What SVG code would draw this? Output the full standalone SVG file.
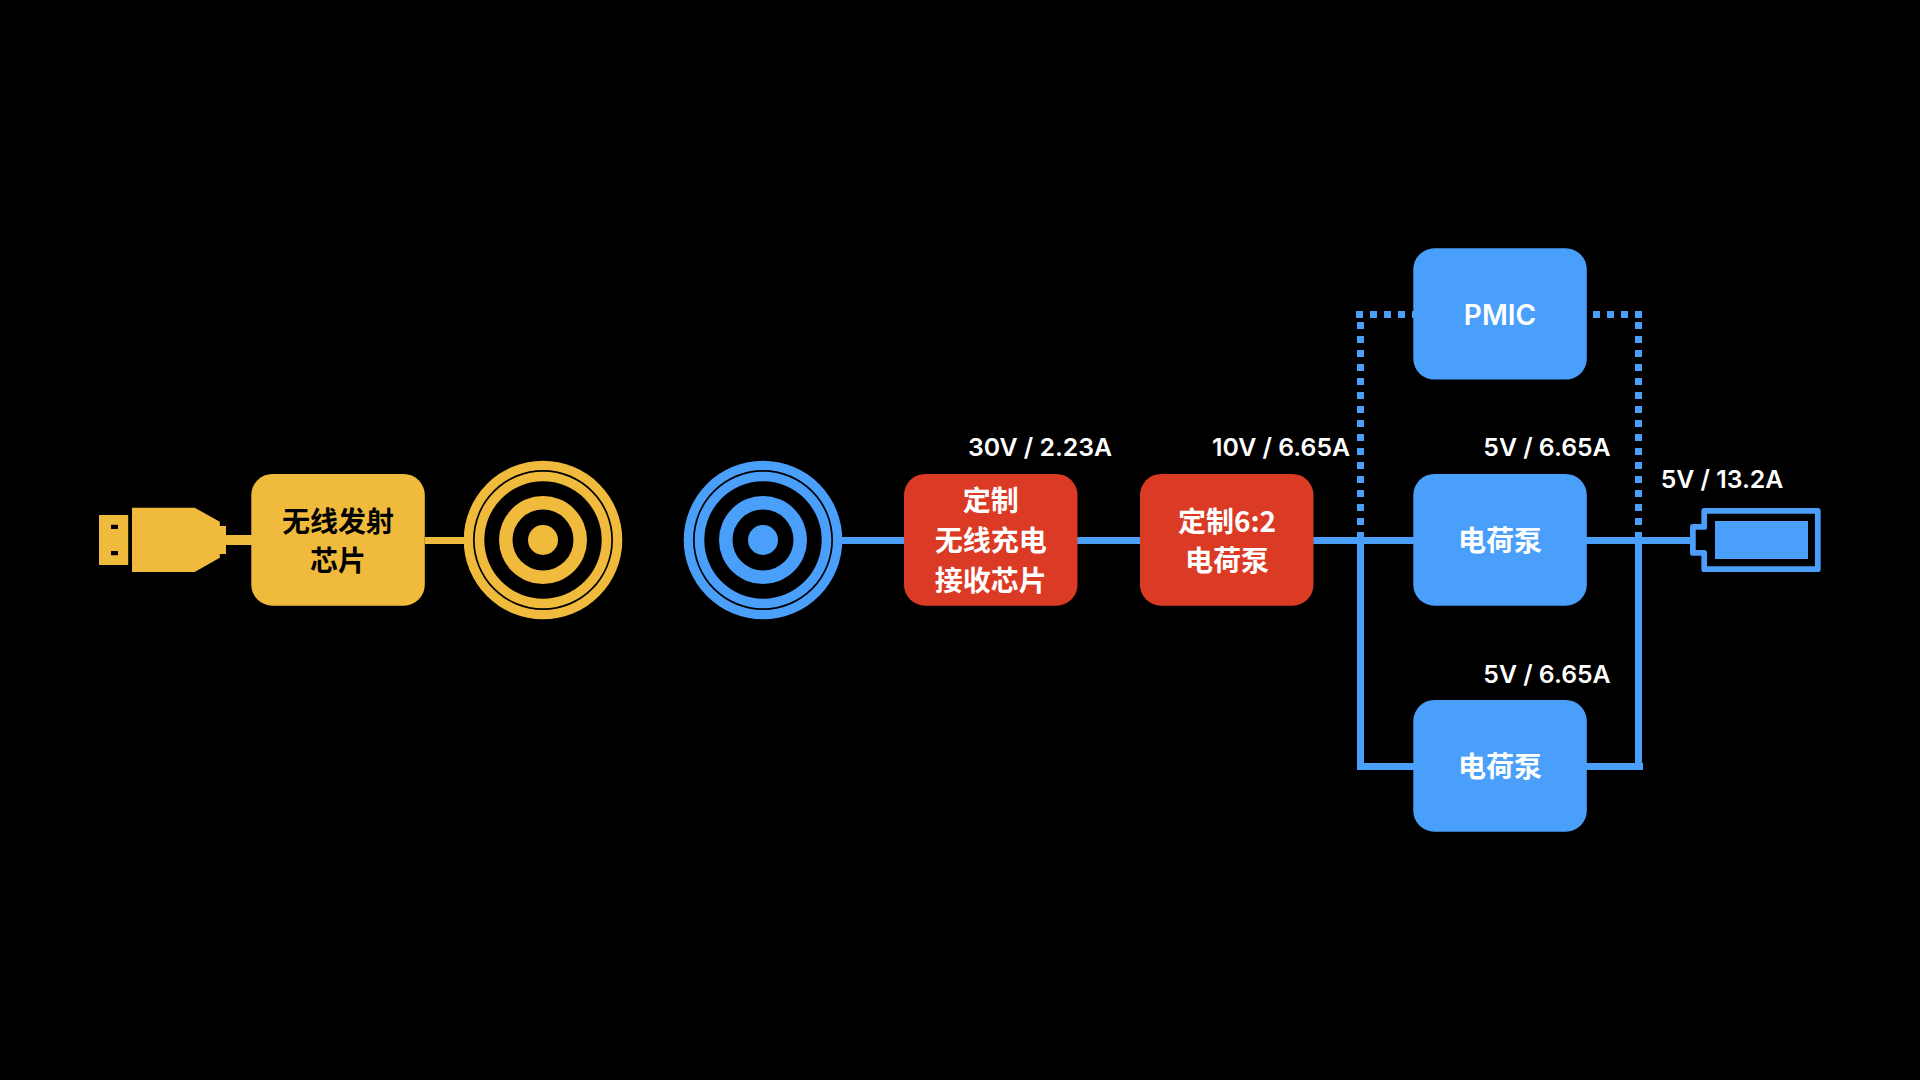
<svg xmlns="http://www.w3.org/2000/svg" width="1920" height="1080" viewBox="0 0 1920 1080">
<style>
.y{fill:#F0BB3C}.b{fill:#4A9FFA}.r{fill:#DB3A24}.k{fill:#000}
.w{fill:none;stroke:#4A9FFA;stroke-width:7}
.wy{fill:none;stroke:#F0BB3C;stroke-width:7}
.d{fill:none;stroke:#4A9FFA;stroke-width:7;stroke-dasharray:7 7}
.cn{font-family:"Noto Sans CJK SC","Noto Sans",sans-serif;font-weight:700;font-size:28px;text-anchor:middle;dominant-baseline:auto;fill:#fff}
.dark{fill:#000}
.lb{font-family:Inter,"Noto Sans",sans-serif;font-weight:600;font-size:24.8px;text-anchor:middle;fill:#fff}
.pm{font-family:Inter,"Noto Sans",sans-serif;font-weight:600;font-size:28px;text-anchor:middle;fill:#fff}
</style>
<rect width="1920" height="1080" fill="#000"/>
<g id="connectors">
<path class="wy" d="M425 540.5H464"/>
<path d="M211 540H252" fill="none" stroke="#F0BB3C" stroke-width="10"/>
<path class="w" d="M842 540.5H1690"/>
<path class="w" d="M1360.5 540.5V766.5H1414"/>
<path class="w" d="M1586 766.5H1643M1638.5 766V540.5"/>
<path class="d" d="M1356 314.5H1414"/>
<path class="d" d="M1360.5 322V540"/>
<path class="d" d="M1593 314.5H1642"/>
<path class="d" d="M1638.5 322V540"/>
</g>
<g id="usb">
<path class="y" d="M99 515H128.2V565H99ZM111 524.7V529H118V524.7ZM111 551V555.3H118V551Z" fill-rule="evenodd"/>
<path class="y" d="M132 507.7H194.7L219.8 521.7V526H226V554H219.8V557.7L194.7 572H132Z"/>
</g>
<g id="tx-chip">
<rect class="y" x="251.3" y="474" width="173.5" height="131.7" rx="21"/>
<text class="cn dark" x="338" y="532">无线发射</text>
<text class="cn dark" x="338" y="571">芯片</text>
</g>
<g id="tx-coil">
<circle class="y" cx="543" cy="540" r="79.3"/>
<circle class="k" cx="543" cy="540" r="70"/>
<circle class="y" cx="543" cy="540" r="68.3"/>
<circle class="k" cx="543" cy="540" r="58.7"/>
<circle class="y" cx="543" cy="540" r="44"/>
<circle class="k" cx="543" cy="540" r="30.5"/>
<circle class="y" cx="543" cy="540" r="15"/>
</g>
<g id="rx-coil">
<circle class="b" cx="763" cy="540" r="79.3"/>
<circle class="k" cx="763" cy="540" r="70"/>
<circle class="b" cx="763" cy="540" r="68.3"/>
<circle class="k" cx="763" cy="540" r="58.7"/>
<circle class="b" cx="763" cy="540" r="44"/>
<circle class="k" cx="763" cy="540" r="30.5"/>
<circle class="b" cx="763" cy="540" r="15"/>
</g>
<g id="rx-chip">
<rect class="r" x="904" y="474" width="173.5" height="131.7" rx="21"/>
<text class="cn" x="990.7" y="511">定制</text>
<text class="cn" x="990.7" y="551">无线充电</text>
<text class="cn" x="990.7" y="591">接收芯片</text>
</g>
<g id="custom-pump">
<rect class="r" x="1140" y="474" width="173.5" height="131.7" rx="21"/>
<text class="cn" x="1227" y="532">定制6:2</text>
<text class="cn" x="1227" y="571">电荷泵</text>
</g>
<g id="pmic">
<rect class="b" x="1413.3" y="248.3" width="173.5" height="131.3" rx="21"/>
<text class="pm" x="1500" y="325">PMIC</text>
</g>
<g id="pump-1">
<rect class="b" x="1413.3" y="474" width="173.5" height="131.7" rx="21"/>
<text class="cn" x="1500" y="551">电荷泵</text>
</g>
<g id="pump-2">
<rect class="b" x="1413.3" y="700" width="173.5" height="131.7" rx="21"/>
<text class="cn" x="1500" y="777">电荷泵</text>
</g>
<g id="battery">
<path d="M1704.2 510.8H1817.8V569.2H1704.2V552.9H1692.9V526.9H1704.2Z" fill="#000" stroke="#4A9FFA" stroke-width="5.7" stroke-linejoin="round"/>
<rect class="b" x="1715" y="521" width="93" height="38"/>
</g>
<g id="labels">
<text class="lb" x="1040" y="455.7">30V / 2.23A</text>
<text class="lb" x="1281" y="455.7">10V / 6.65A</text>
<text class="lb" x="1547" y="456">5V / 6.65A</text>
<text class="lb" x="1722" y="487.7">5V / 13.2A</text>
<text class="lb" x="1547" y="682.7">5V / 6.65A</text>
</g>
</svg>
